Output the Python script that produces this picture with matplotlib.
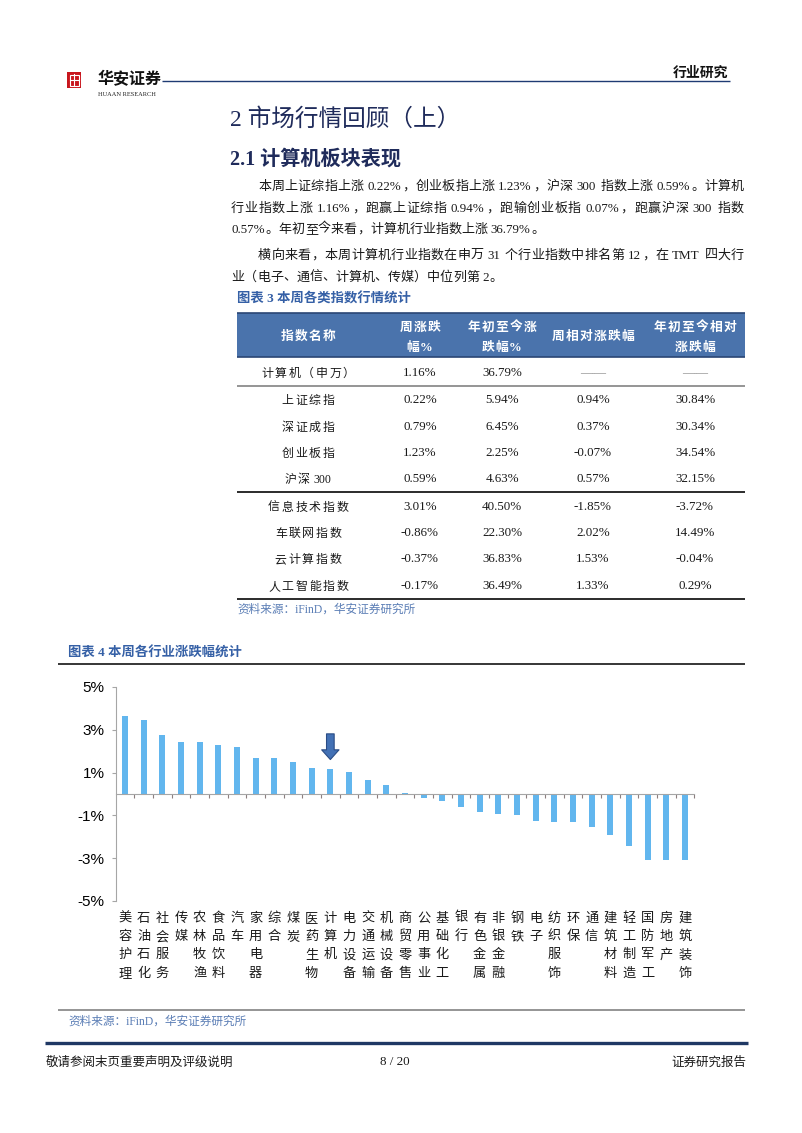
import re
import numpy as np
import matplotlib
matplotlib.use('Agg')
import matplotlib.pyplot as plt
from matplotlib.patches import Rectangle
from matplotlib.lines import Line2D
import matplotlib.transforms as mtransforms

W, H = 802, 1133
CJK = ['Liberation Serif', 'Noto Sans CJK SC']
SANS = ['Noto Sans CJK SC']

# ---------------- data ----------------
industries = ['美容护理', '石油石化', '社会服务', '传媒', '农林牧渔', '食品饮料', '汽车',
              '家用电器', '综合', '煤炭', '医药生物', '计算机', '电力设备', '交通运输',
              '机械设备', '商贸零售', '公用事业', '基础化工', '银行', '有色金属', '非银金融',
              '钢铁', '电子', '纺织服饰', '环保', '通信', '建筑材料', '轻工制造', '国防军工',
              '房地产', '建筑装饰']
weekly_change = [3.66, 3.47, 2.77, 2.41, 2.41, 2.31, 2.19, 1.66, 1.66, 1.50, 1.23, 1.16,
                 1.02, 0.66, 0.41, 0.05, -0.19, -0.35, -0.63, -0.85, -0.94, -1.00, -1.24,
                 -1.29, -1.31, -1.54, -1.90, -2.43, -3.08, -3.08, -3.10]
highlight = '计算机'
y_ticks = [5, 3, 1, -1, -3, -5]
y_tick_labels = ['5%', '3%', '1%', '-1%', '-3%', '-5%']

table_headers = [['指数名称'], ['周涨跌', '幅%'], ['年初至今涨', '跌幅%'], ['周相对涨跌幅'],
                 ['年初至今相对', '涨跌幅']]
index_names = ['计算机（申万）', '上证综指', '深证成指', '创业板指', '沪深 300',
               '信息技术指数', '车联网指数', '云计算指数', '人工智能指数']
week_chg = [1.16, 0.22, 0.79, 1.23, 0.59, 3.01, -0.86, -0.37, -0.17]
ytd_chg = [36.79, 5.94, 6.45, 2.25, 4.63, 40.50, 22.30, 36.83, 36.49]
week_rel = [None, 0.94, 0.37, -0.07, 0.57, -1.85, 2.02, 1.53, 1.33]
ytd_rel = [None, 30.84, 30.34, 34.54, 32.15, -3.72, 14.49, -0.04, 0.29]

para1 = ['本周上证综指上涨 0.22%，创业板指上涨 1.23%，沪深 300 指数上涨 0.59%。计算机',
         '行业指数上涨 1.16%，跑赢上证综指 0.94%，跑输创业板指 0.07%，跑赢沪深 300 指数',
         '0.57%。年初至今来看，计算机行业指数上涨 36.79%。']
para2 = ['横向来看，本周计算机行业指数在申万 31 个行业指数中排名第 12，在 TMT 四大行',
         '业（电子、通信、计算机、传媒）中位列第 2。']

# ---------------- figure ----------------
fig = plt.figure(figsize=(W / 100, H / 100), dpi=100)
fig.patch.set_facecolor('white')
renderer = fig.canvas.get_renderer()


def fx(x):
    return x / W


def fy(y):
    return 1 - y / H


def hline(x0, x1, y, color, lw):
    fig.add_artist(Line2D([fx(x0), fx(x1)], [fy(y), fy(y)], color=color, lw=lw,
                          transform=fig.transFigure, solid_capstyle='butt'))


def is_cjk(ch):
    return ord(ch) >= 0x2E80


def layout_tokens(text, ypx, size, color, weight, track):
    em = size * 100 / 72
    base = fy(ypx + 0.36 * em)
    tokens = re.findall(r'[A-Za-z0-9.%/\-]+| |.', text)
    items = []
    for tok in tokens:
        if tok == ' ':
            items.append((None, em * 0.25, False))
        elif len(tok) == 1 and is_cjk(tok):
            t = fig.text(0, base, tok, fontsize=size, family=CJK, color=color,
                         ha='center', va='baseline', weight=weight)
            items.append((t, em * (1 + track), True))
        else:
            t = fig.text(0, base, tok, fontsize=size, family=CJK, color=color,
                         ha='left', va='baseline', weight=weight)
            w = t.get_window_extent(renderer).width + 1.0
            items.append((t, w, False))
    return items


def place(items, x0, gap):
    x = x0
    for t, w, c in items:
        if t is not None:
            t.set_x(fx(x + w / 2) if c else fx(x))
        x += w + gap


def draw_line(text, x0, ypx, size, color, x1=None, weight='normal'):
    items = layout_tokens(text, ypx, size, color, weight, 0.0)
    total = sum(w for _, w, _ in items)
    gap = 0
    if x1 is not None and len(items) > 1:
        gap = (x1 - x0 - total) / (len(items) - 1)
    place(items, x0, gap)


def centered(text, cx, ypx, size, color, weight='normal', track=0.12):
    items = layout_tokens(text, ypx, size, color, weight, track)
    total = sum(w for _, w, _ in items)
    place(items, cx - total / 2, 0)


# ---------------- page header ----------------
fig.add_artist(Rectangle((fx(67), fy(88)), 14 / W, 16 / H, transform=fig.transFigure,
                         facecolor='#C8161D', edgecolor='none'))
fig.add_artist(Rectangle((fx(69.5), fy(85.5)), 9 / W, 11 / H, transform=fig.transFigure,
                         facecolor='none', edgecolor='white', lw=0.8))
fig.add_artist(Line2D([fx(74), fx(74)], [fy(74), fy(86)], color='white', lw=0.8,
                      transform=fig.transFigure))
fig.add_artist(Line2D([fx(69.5), fx(78.5)], [fy(80), fy(80)], color='white', lw=0.8,
                      transform=fig.transFigure))
fig.text(fx(98), fy(79), '华安证券', fontsize=11.5, family=SANS, color='#111111',
         ha='left', va='center', weight='bold', style='italic')
fig.text(fx(98), fy(94), 'HUAAN RESEARCH', fontsize=4.6, family=['Liberation Serif'],
         color='#222222', ha='left', va='center')
hline(162, 730, 81, '#1F3B73', 1.0)
fig.text(fx(728), fy(73), '行业研究', fontsize=10, family=SANS, color='#111111',
         ha='right', va='center', weight='bold')

# ---------------- headings & body ----------------
fig.text(fx(230), fy(119), '2 市场行情回顾（上）', fontsize=17, family=CJK,
         color='#1F2B5B', ha='left', va='center')
fig.text(fx(230), fy(160), '2.1 计算机板块表现', fontsize=14.5, family=CJK,
         color='#1F2B5B', ha='left', va='center', weight='bold')

body_size = 9.4
body_color = '#1A1A1A'
draw_line(para1[0], 258, 185, body_size, body_color, x1=744)
draw_line(para1[1], 231, 207, body_size, body_color, x1=744)
draw_line(para1[2], 231, 228, body_size, body_color)
draw_line(para2[0], 258, 254, body_size, body_color, x1=744)
draw_line(para2[1], 231, 276, body_size, body_color)

# ---------------- table ----------------
title_blue = '#3560A6'
fig.text(fx(237), fy(299), '图表 3 本周各类指数行情统计', fontsize=9.6, family=CJK,
         color=title_blue, ha='left', va='center', weight='bold')
fig.add_artist(Rectangle((fx(237), fy(357)), (745 - 237) / W, (357 - 313) / H,
                         transform=fig.transFigure, facecolor='#4A73AC', edgecolor='none'))
hline(237, 745, 313, '#2A4674', 1.2)
hline(237, 745, 357, '#2A4674', 1.2)

col_x = [308, 420, 502, 593, 695]
for cx, head in zip(col_x, table_headers):
    if len(head) == 1:
        centered(head[0], cx, 335, 9.2, 'white', weight='bold', track=0.1)
    else:
        centered(head[0], cx, 326, 9.2, 'white', weight='bold', track=0.1)
        centered(head[1], cx, 346, 9.2, 'white', weight='bold', track=0.1)

row_y = [373, 400, 426.5, 452.5, 479, 507, 533, 559, 586]


def fmt(v):
    return '——' if v is None else f'{v:.2f}%'


for i, name in enumerate(index_names):
    y = row_y[i]
    centered(name, col_x[0], y, 8.6, '#1A1A1A', track=0.14)
    for cx, col in zip(col_x[1:], [week_chg, ytd_chg, week_rel, ytd_rel]):
        v = col[i]
        fig.text(fx(cx), fy(y), fmt(v), fontsize=9.4, family=CJK,
                 color='#888888' if v is None else '#1A1A1A', ha='center', va='center')

hline(237, 745, 386, '#8C8C8C', 1.3)
hline(237, 745, 492, '#1A1A1A', 1.3)
hline(237, 745, 599, '#1A1A1A', 1.3)
fig.text(fx(237), fy(610), '资料来源：iFinD，华安证券研究所', fontsize=8.4, family=CJK,
         color='#5A7DB5', ha='left', va='center')

# ---------------- chart ----------------
fig.text(fx(68), fy(653), '图表 4 本周各行业涨跌幅统计', fontsize=9.6, family=CJK,
         color=title_blue, ha='left', va='center', weight='bold')
hline(58, 745, 664, '#262626', 1.3)
hline(58, 745, 1010, '#8C8C8C', 1.3)
fig.text(fx(68), fy(1022), '资料来源：iFinD，华安证券研究所', fontsize=8.4, family=CJK,
         color='#5A7DB5', ha='left', va='center')

ax = fig.add_axes([fx(115.7), fy(901), (694.3 - 115.7) / W, (901 - 687) / H])
ax.set_facecolor('none')
xs = np.arange(len(industries))
ax.bar(xs, weekly_change, width=0.32, color='#62B6EE', zorder=2)
ax.set_xlim(-0.5, len(industries) - 0.5)
ax.set_ylim(-5, 5)
for s in ['top', 'right']:
    ax.spines[s].set_visible(False)
ax.spines['left'].set_color('#A6A6A6')
ax.spines['bottom'].set_position(('data', 0))
ax.spines['bottom'].set_color('#A6A6A6')
ax.set_xticks(np.arange(0.5, len(industries), 1))
ax.set_xticklabels([])
ax.tick_params(axis='x', direction='out', length=3, color='#8C7F7F')
ax.set_yticks(y_ticks)
ax.set_yticklabels(y_tick_labels, family=['Liberation Sans'], fontsize=11)
ax.tick_params(axis='y', direction='out', length=3, color='#A6A6A6', pad=5)

hi = industries.index(highlight)
hv = weekly_change[hi]
ax.annotate('', xy=(hi, hv + 0.45), xytext=(hi, hv + 1.65),
            arrowprops=dict(arrowstyle='simple,head_length=0.7,head_width=1.25,tail_width=0.55',
                            mutation_scale=10, fc='#4371B5', ec='#2A4C85', lw=0.8,
                            shrinkA=0, shrinkB=0), zorder=3)

blend = mtransforms.blended_transform_factory(ax.transData, fig.transFigure)
lab_size = 9.5
lab_em = lab_size * 100 / 72
for i, name in enumerate(industries):
    for j, ch in enumerate(name):
        ax.text(i, fy(917 + 18.3 * j + 0.36 * lab_em), ch, transform=blend, ha='center',
                va='baseline', fontsize=lab_size, family=SANS, color='#1A1A1A',
                clip_on=False)

# ---------------- footer ----------------
hline(45, 748, 1043, '#1F3864', 2.4)
fig.text(fx(46), fy(1062), '敬请参阅末页重要声明及评级说明', fontsize=9, family=SANS,
         color='#1A1A1A', ha='left', va='center')
fig.text(fx(395), fy(1062), '8 / 20', fontsize=9.4, family=['Liberation Serif'],
         color='#1A1A1A', ha='center', va='center')
fig.text(fx(746), fy(1062), '证券研究报告', fontsize=9, family=SANS,
         color='#1A1A1A', ha='right', va='center')

fig.savefig('out.png', dpi=100, facecolor='white')
